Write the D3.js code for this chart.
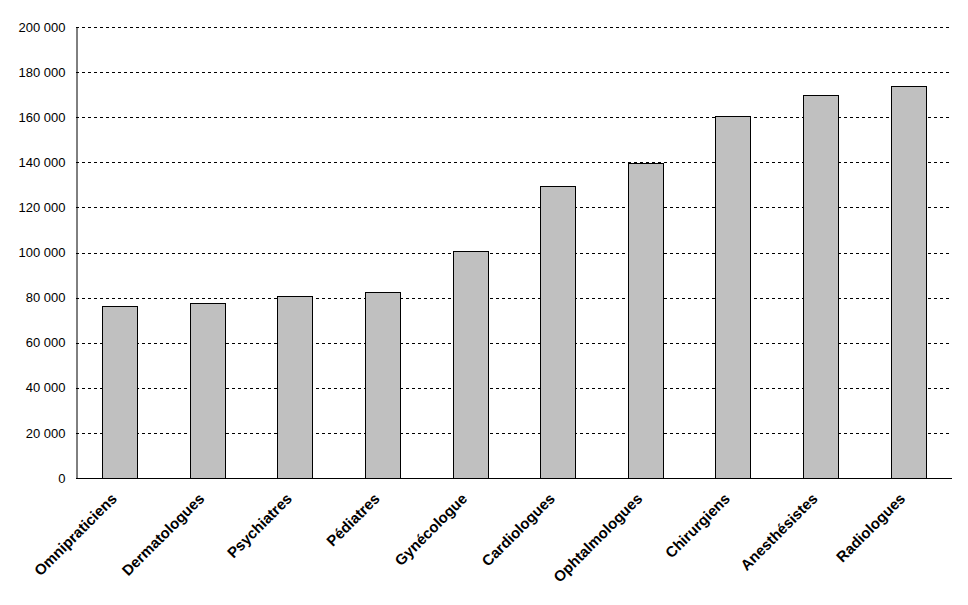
<!DOCTYPE html>
<html><head><meta charset="utf-8">
<script src="https://cdn.jsdelivr.net/npm/d3@7/dist/d3.min.js"></script>
<style>body{margin:0;background:#fff}svg{display:block}</style>
</head><body>
<script>
const categories = ["Omnipraticiens","Dermatologues","Psychiatres","Pédiatres","Gynécologue","Cardiologues","Ophtalmologues","Chirurgiens","Anesthésistes","Radiologues"];
const values = [76400, 77500, 80700, 82300, 100600, 129400, 139600, 160400, 169700, 173700];
const yTicks = [0,20000,40000,60000,80000,100000,120000,140000,160000,180000,200000];

const W=968,H=605;
const m={left:76,right:16,top:27,bottom:127};
const svg=d3.select("body").append("svg").attr("width",W).attr("height",H);
const x=d3.scaleBand().domain(categories).range([m.left,W-m.right]).paddingInner(0.6).paddingOuter(0.3);
const y=d3.scaleLinear().domain([0,200000]).range([H-m.bottom,m.top]);
const fmt=v=>d3.format(",")(v).replace(/,/g," ");

// grid
svg.append("g").selectAll("line").data(yTicks.filter(d=>d>0)).join("line")
 .attr("x1",m.left).attr("x2",W-m.right)
 .attr("y1",d=>Math.round(y(d))+0.5).attr("y2",d=>Math.round(y(d))+0.5)
 .attr("stroke","#000").attr("stroke-width",1).attr("stroke-dasharray","3,3");

// bars
svg.append("g").selectAll("rect").data(values).join("rect")
 .attr("x",(d,i)=>Math.round(x(categories[i]))+0.5)
 .attr("width",Math.round(x.bandwidth()))
 .attr("y",d=>Math.round(y(d))+0.5)
 .attr("height",d=>Math.round(y(0))-Math.round(y(d)))
 .attr("fill","#c0c0c0").attr("stroke","#000").attr("stroke-width",1);

// y axis
const ya=svg.append("g").attr("transform",`translate(${m.left+0.5},0)`)
 .call(d3.axisLeft(y).tickValues(yTicks).tickFormat(fmt).tickSize(0).tickPadding(11));
ya.select(".domain").attr("stroke","#000");
ya.selectAll("text").attr("font-family","Liberation Sans, Arial, sans-serif").attr("font-size",13).attr("fill","#000");

// x axis
const xa=svg.append("g").attr("transform",`translate(0,${Math.round(y(0))+0.5})`)
 .call(d3.axisBottom(x).tickSize(0).tickSizeOuter(0));
xa.select(".domain").attr("stroke","#000").attr("d",`M${m.left},0H${W-m.right}`);
xa.selectAll("text").attr("font-family","Liberation Sans, Arial, sans-serif").attr("font-size",15)
 .attr("font-weight","bold").attr("fill","#000")
 .attr("text-anchor","end").attr("dy",null).attr("y",0)
 .attr("transform","translate(-2,21) rotate(-45)");
</script>
</body></html>
